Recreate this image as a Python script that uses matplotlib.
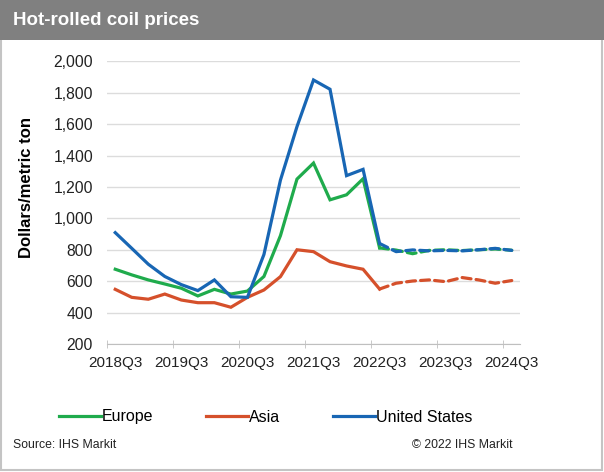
import matplotlib
matplotlib.use('Agg')
import matplotlib.pyplot as plt
import numpy as np
from matplotlib.patches import Rectangle

plt.rcParams['font.family'] = ['Liberation Sans', 'DejaVu Sans']

# quarterly data, 2018Q3 .. 2024Q3 (forecast from 2022Q3)
quarters = ['2018Q3', '2018Q4', '2019Q1', '2019Q2', '2019Q3', '2019Q4', '2020Q1', '2020Q2',
            '2020Q3', '2020Q4', '2021Q1', '2021Q2', '2021Q3', '2021Q4', '2022Q1', '2022Q2',
            '2022Q3', '2022Q4', '2023Q1', '2023Q2', '2023Q3', '2023Q4', '2024Q1', '2024Q2',
            '2024Q3']
europe = [676, 640, 608, 582, 555, 506, 548, 518, 537, 630, 890, 1250, 1352, 1118, 1150, 1252,
          812, 798, 775, 796, 800, 795, 800, 805, 797]
asia = [548, 497, 485, 518, 480, 463, 463, 434, 497, 544, 629, 800, 788, 724, 697, 676,
        550, 587, 601, 608, 597, 623, 608, 587, 604]
united_states = [909, 809, 708, 630, 578, 540, 608, 501, 497, 770, 1244, 1584, 1881, 1822, 1272, 1312,
                 840, 788, 799, 793, 796, 793, 800, 809, 796]
forecast_start = quarters.index('2022Q3')

colors = {'Europe': '#1fab4c', 'Asia': '#d5502b', 'United States': '#1866b4'}
series = {'Europe': europe, 'Asia': asia, 'United States': united_states}

fig = plt.figure(figsize=(6.04, 4.72), dpi=100)

# border and title bar
fig.patches.append(Rectangle((0.002, 0.004), 0.994, 0.994, transform=fig.transFigure,
                             fill=False, edgecolor='#c4c4c4', linewidth=1.5))
fig.patches.append(Rectangle((0, 0.915), 1, 0.085, transform=fig.transFigure,
                             facecolor='#808080', edgecolor='none'))
fig.text(0.022, 0.957, 'Hot-rolled coil prices', color='white', fontsize=13.5,
         fontweight='bold', va='center', ha='left')

ax = fig.add_axes([107 / 604, 1 - 344 / 472, 413 / 604, (344 - 61.3) / 472])
x = np.arange(len(quarters))
handles = []
for name, vals in series.items():
    vals = np.array(vals)
    h, = ax.plot(x[:forecast_start + 1], vals[:forecast_start + 1], color=colors[name],
                 lw=2.3, solid_joinstyle='miter', label=name)
    ax.plot(x[forecast_start:], vals[forecast_start:], color=colors[name], lw=2.3,
            linestyle=(0, (2.8, 1.6)), dash_capstyle='round')
    handles.append(h)

ax.set_xlim(-0.5, len(quarters) - 0.5)
ax.set_ylim(200, 2000)
ax.set_yticks(np.arange(200, 2001, 200))
ax.set_yticklabels([f'{v:,}' for v in range(200, 2001, 200)])
ax.set_xticks(x[::4])
ax.set_xticklabels(quarters[::4])
ax.set_xticks(np.arange(-0.5, len(quarters) - 0.5, 4), minor=True)
ax.tick_params(axis='x', which='major', length=0, labelsize=11, pad=9, colors='#222222')
ax.tick_params(axis='x', which='minor', length=6, direction='inout', color='#bfbfbf')
ax.tick_params(axis='y', length=0, labelsize=11.3, pad=10, colors='#222222')
ax.grid(axis='y', color='#dcdcdc', lw=1)
ax.set_axisbelow(True)
for s in ['left', 'right', 'top']:
    ax.spines[s].set_visible(False)
ax.spines['bottom'].set_color('#bfbfbf')
ax.set_ylabel('Dollars/metric ton', fontsize=12, fontweight='bold')
ax.yaxis.set_label_coords(-0.176, 0.552)

fig.legend(handles=handles, loc='center left', bbox_to_anchor=(59 / 604, 1 - 417 / 472),
           ncol=3, frameon=False, fontsize=11.5, handlelength=2.6, handletextpad=0.1,
           columnspacing=3.3, borderaxespad=0, borderpad=0)

fig.text(0.022, 1 - 445 / 472, 'Source: IHS Markit', fontsize=8.8, va='center', ha='left',
         color='#222222')
fig.text(513 / 604, 1 - 445 / 472, '\u00a9 2022 IHS Markit', fontsize=8.8, va='center',
         ha='right', color='#222222')

fig.savefig('out.png', dpi=100)
